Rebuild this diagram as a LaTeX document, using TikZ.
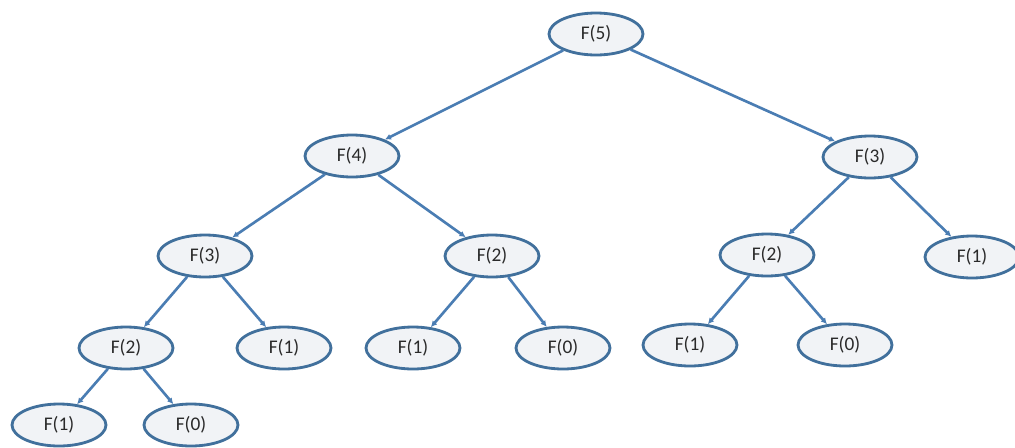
\documentclass[tikz,border=0pt]{standalone}
\usepackage{fontspec}
\setmainfont{Carlito}
\usepackage{xcolor}
\usetikzlibrary{arrows.meta,shapes.geometric}
\definecolor{EdgeBlue}{HTML}{4A7DB3}
\definecolor{RimBlue}{HTML}{41709C}
\definecolor{CallFill}{HTML}{F1F3F6}
\definecolor{TextDark}{HTML}{2A2A2A}

\begin{document}
\begin{tikzpicture}[x=0.02cm, y=-0.02cm,
                    every node/.style={font=\fontsize{11}{13}\selectfont},
                    call/.style={ellipse, draw=RimBlue, fill=CallFill, line width=1.6pt,
                                 minimum width=1.88cm, minimum height=0.84cm,
                                 inner sep=0pt, text=TextDark},
                    ar/.style={-{Latex[length=3.5pt,width=3.5pt]}, line width=1.5pt, EdgeBlue}]
      \useasboundingbox[fill=white] (0,0) rectangle (1015,447);
      % level 0 and 1
      \node[call] (f5)  at (596,34)  {F(5)};
      \node[call] (f4)  at (352,156) {F(4)};
      \node[call] (f3r) at (870,157) {F(3)};
      % level 2
      \node[call] (f3l) at (205,256) {F(3)};
      \node[call] (f2m) at (492,256) {F(2)};
      \node[call] (f2r) at (767,255) {F(2)};
      \node[call] (f1r) at (972,257) {F(1)};
      % level 3
      \node[call] (f2l) at (126,348) {F(2)};
      \node[call] (f1a) at (284,348) {F(1)};
      \node[call] (f1b) at (413,348) {F(1)};
      \node[call] (f0a) at (563,348) {F(0)};
      \node[call] (f1c) at (690,345) {F(1)};
      \node[call] (f0b) at (845,345) {F(0)};
      % level 4
      \node[call] (f1d) at (59,425)  {F(1)};
      \node[call] (f0c) at (191,425) {F(0)};
      \draw[ar](f5)--(f4); \draw[ar](f5)--(f3r);
      \draw[ar](f4)--(f3l); \draw[ar](f4)--(f2m);
      \draw[ar](f3r)--(f2r); \draw[ar](f3r)--(f1r);
      \draw[ar](f3l)--(f2l); \draw[ar](f3l)--(f1a);
      \draw[ar](f2m)--(f1b); \draw[ar](f2m)--(f0a);
      \draw[ar](f2r)--(f1c); \draw[ar](f2r)--(f0b);
      \draw[ar](f2l)--(f1d); \draw[ar](f2l)--(f0c);
    \end{tikzpicture}
\end{document}
